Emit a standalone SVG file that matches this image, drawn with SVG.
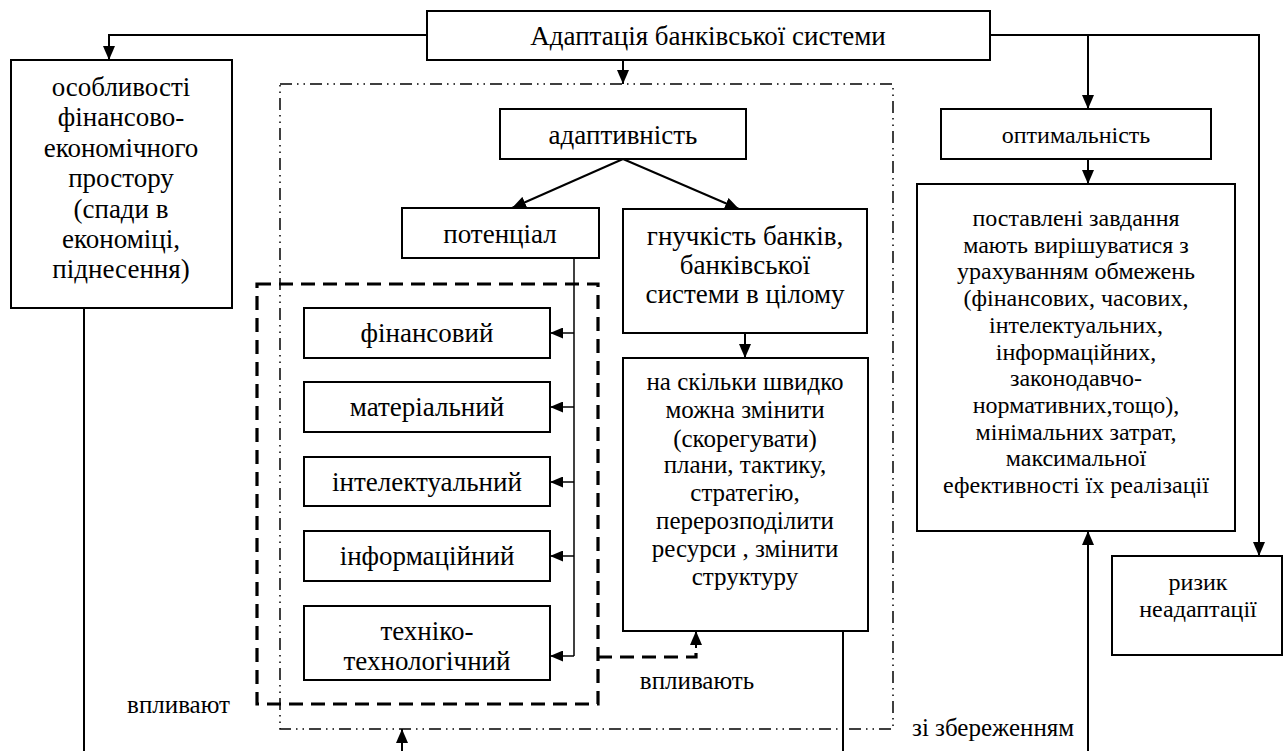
<svg xmlns="http://www.w3.org/2000/svg" width="1284" height="751" viewBox="0 0 1284 751" xml:lang="uk" font-family="Liberation Serif, Times New Roman, serif">
<defs>
<marker id="ah" viewBox="0 0 14 12" refX="14" refY="6" markerWidth="14" markerHeight="12" orient="auto" markerUnits="userSpaceOnUse"><path d="M0,0 L14,6 L0,12 z" fill="#000" stroke="none"/></marker>
<marker id="as" viewBox="0 0 13 11" refX="13" refY="5.5" markerWidth="13" markerHeight="11" orient="auto" markerUnits="userSpaceOnUse"><path d="M0,0 L13,5.5 L0,11 z" fill="#000" stroke="none"/></marker>
<clipPath id="clipTech"><rect x="300" y="600" width="260" height="71"/></clipPath>
</defs>

<g id="groups" fill="none" stroke="#000">
<rect x="280" y="84" width="613" height="645" stroke-width="1.5" stroke-dasharray="12 5 1.5 5 1.5 5"/>
<rect x="257" y="284" width="341" height="420" stroke-width="3.2" stroke-dasharray="14 8"/>
</g>

<g id="connectors" fill="none" stroke="#000" stroke-width="2">
<path d="M427,35 H109 V60" marker-end="url(#ah)"/>
<path d="M623,60 V84" marker-end="url(#ah)"/>
<path d="M990,35 H1259 V556" marker-end="url(#ah)"/>
<path d="M1088,35 V109" marker-end="url(#ah)"/>
<path d="M1088,159 V184" marker-end="url(#ah)"/>
<path d="M623,159 L512,208" marker-end="url(#ah)"/>
<path d="M623,159 L739,209" marker-end="url(#ah)"/>
<path d="M745,333 V358" marker-end="url(#ah)"/>
<g stroke-width="1.5">
<path d="M574,258 V656"/>
<path d="M574,333 H550" marker-end="url(#as)"/>
<path d="M574,407 H550" marker-end="url(#as)"/>
<path d="M574,482 H550" marker-end="url(#as)"/>
<path d="M574,556 H550" marker-end="url(#as)"/>
<path d="M574,656 H550" marker-end="url(#as)"/>
</g>
<path d="M598,657 H696 V646" stroke-width="3.2" stroke-dasharray="14 8"/>
<path d="M696,648 V631" marker-end="url(#ah)"/>
<path d="M84,308 V751"/>
<path d="M402,751 V729" marker-end="url(#ah)"/>
<path d="M843,631 V751"/>
<path d="M1088,751 V531" marker-end="url(#ah)"/>
</g>
<text x="230" y="713" text-anchor="end" font-family="Liberation Serif, Times New Roman, serif" font-size="25">впливают</text>
<text x="697" y="689" text-anchor="middle" font-family="Liberation Serif, Times New Roman, serif" font-size="25">впливають</text>
<text x="912" y="736" font-family="Liberation Serif, Times New Roman, serif" font-size="25">зі збереженням</text>

<g id="nodes" fill="#fff" stroke="#000" stroke-width="2">
<g id="n-title">
<rect x="427" y="11" width="563" height="49"/>
</g>
<g id="n-features">
<rect x="11" y="60" width="221" height="248"/>
</g>
<g id="n-adaptivity">
<rect x="500" y="109" width="246" height="50"/>
</g>
<g id="n-potential">
<rect x="402" y="208" width="197" height="50"/>
</g>
<g id="n-flex">
<rect x="623" y="209" width="244" height="124"/>
</g>
<g id="n-speed">
<rect x="623" y="358" width="245" height="273"/>
</g>
<g id="n-fin">
<rect x="304" y="308" width="246" height="50"/>
</g>
<g id="n-mat">
<rect x="304" y="382" width="246" height="50"/>
</g>
<g id="n-int">
<rect x="304" y="457" width="246" height="49"/>
</g>
<g id="n-info">
<rect x="304" y="531" width="246" height="50"/>
</g>
<g id="n-tech">
<rect x="304" y="606" width="246" height="74"/>
</g>
<g id="n-optimal">
<rect x="941" y="109" width="270" height="50"/>
</g>
<g id="n-tasks">
<rect x="917" y="184" width="318" height="347"/>
</g>
<g id="n-risk">
<rect x="1112" y="556" width="170" height="99"/>
</g>
</g>

<text x="708" y="45" text-anchor="middle" font-family="Liberation Serif, Times New Roman, serif" font-size="27">Адаптація банківської системи</text>
<text x="121" y="96" text-anchor="middle" font-family="Liberation Serif, Times New Roman, serif" font-size="27">особливості</text>
<text x="121" y="126" text-anchor="middle" font-family="Liberation Serif, Times New Roman, serif" font-size="27">фінансово-</text>
<text x="121" y="157" text-anchor="middle" font-family="Liberation Serif, Times New Roman, serif" font-size="27">економічного</text>
<text x="121" y="187" text-anchor="middle" font-family="Liberation Serif, Times New Roman, serif" font-size="27">простору</text>
<text x="121" y="218" text-anchor="middle" font-family="Liberation Serif, Times New Roman, serif" font-size="27">(спади в</text>
<text x="121" y="248" text-anchor="middle" font-family="Liberation Serif, Times New Roman, serif" font-size="27">економіці,</text>
<text x="121" y="278" text-anchor="middle" font-family="Liberation Serif, Times New Roman, serif" font-size="27">піднесення)</text>
<text x="623" y="144" text-anchor="middle" font-family="Liberation Serif, Times New Roman, serif" font-size="27">адаптивність</text>
<text x="500" y="243" text-anchor="middle" font-family="Liberation Serif, Times New Roman, serif" font-size="27">потенціал</text>
<text x="745" y="245" text-anchor="middle" font-family="Liberation Serif, Times New Roman, serif" font-size="27">гнучкість банків,</text>
<text x="745" y="274" text-anchor="middle" font-family="Liberation Serif, Times New Roman, serif" font-size="27">банківської</text>
<text x="745" y="303" text-anchor="middle" font-family="Liberation Serif, Times New Roman, serif" font-size="27">системи в цілому</text>
<text x="745" y="390" text-anchor="middle" font-family="Liberation Serif, Times New Roman, serif" font-size="25">на скільки швидко</text>
<text x="745" y="418" text-anchor="middle" font-family="Liberation Serif, Times New Roman, serif" font-size="25">можна змінити</text>
<text x="745" y="447" text-anchor="middle" font-family="Liberation Serif, Times New Roman, serif" font-size="25">(скорегувати)</text>
<text x="745" y="473" text-anchor="middle" font-family="Liberation Serif, Times New Roman, serif" font-size="25">плани, тактику,</text>
<text x="745" y="501" text-anchor="middle" font-family="Liberation Serif, Times New Roman, serif" font-size="25">стратегію,</text>
<text x="745" y="529" text-anchor="middle" font-family="Liberation Serif, Times New Roman, serif" font-size="25">перерозподілити</text>
<text x="745" y="557" text-anchor="middle" font-family="Liberation Serif, Times New Roman, serif" font-size="25">ресурси , змінити</text>
<text x="745" y="585" text-anchor="middle" font-family="Liberation Serif, Times New Roman, serif" font-size="25">структуру</text>
<text x="427" y="342" text-anchor="middle" font-family="Liberation Serif, Times New Roman, serif" font-size="27">фінансовий</text>
<text x="427" y="416" text-anchor="middle" font-family="Liberation Serif, Times New Roman, serif" font-size="27">матеріальний</text>
<text x="427" y="491" text-anchor="middle" font-family="Liberation Serif, Times New Roman, serif" font-size="27">інтелектуальний</text>
<text x="427" y="565" text-anchor="middle" font-family="Liberation Serif, Times New Roman, serif" font-size="27">інформаційний</text>
<g clip-path="url(#clipTech)">
<text x="427" y="640" text-anchor="middle" font-family="Liberation Serif, Times New Roman, serif" font-size="27">техніко-</text>
<text x="427" y="670" text-anchor="middle" font-family="Liberation Serif, Times New Roman, serif" font-size="27">технологічний</text>
</g>
<text x="1076" y="143" text-anchor="middle" font-family="Liberation Serif, Times New Roman, serif" font-size="24">оптимальність</text>
<text x="1076" y="226" text-anchor="middle" font-family="Liberation Serif, Times New Roman, serif" font-size="24">поставлені завдання</text>
<text x="1076" y="253" text-anchor="middle" font-family="Liberation Serif, Times New Roman, serif" font-size="24">мають вирішуватися з</text>
<text x="1076" y="279" text-anchor="middle" font-family="Liberation Serif, Times New Roman, serif" font-size="24">урахуванням обмежень</text>
<text x="1076" y="306" text-anchor="middle" font-family="Liberation Serif, Times New Roman, serif" font-size="24">(фінансових, часових,</text>
<text x="1076" y="333" text-anchor="middle" font-family="Liberation Serif, Times New Roman, serif" font-size="24">інтелектуальних,</text>
<text x="1076" y="360" text-anchor="middle" font-family="Liberation Serif, Times New Roman, serif" font-size="24">інформаційних,</text>
<text x="1076" y="386" text-anchor="middle" font-family="Liberation Serif, Times New Roman, serif" font-size="24">законодавчо-</text>
<text x="1076" y="413" text-anchor="middle" font-family="Liberation Serif, Times New Roman, serif" font-size="24">нормативних,тощо),</text>
<text x="1076" y="440" text-anchor="middle" font-family="Liberation Serif, Times New Roman, serif" font-size="24">мінімальних затрат,</text>
<text x="1076" y="466" text-anchor="middle" font-family="Liberation Serif, Times New Roman, serif" font-size="24">максимальної</text>
<text x="1076" y="493" text-anchor="middle" font-family="Liberation Serif, Times New Roman, serif" font-size="24">ефективності їх реалізації</text>
<text x="1198" y="590" text-anchor="middle" font-family="Liberation Serif, Times New Roman, serif" font-size="24">ризик</text>
<text x="1198" y="617" text-anchor="middle" font-family="Liberation Serif, Times New Roman, serif" font-size="24">неадаптації</text>
</svg>
